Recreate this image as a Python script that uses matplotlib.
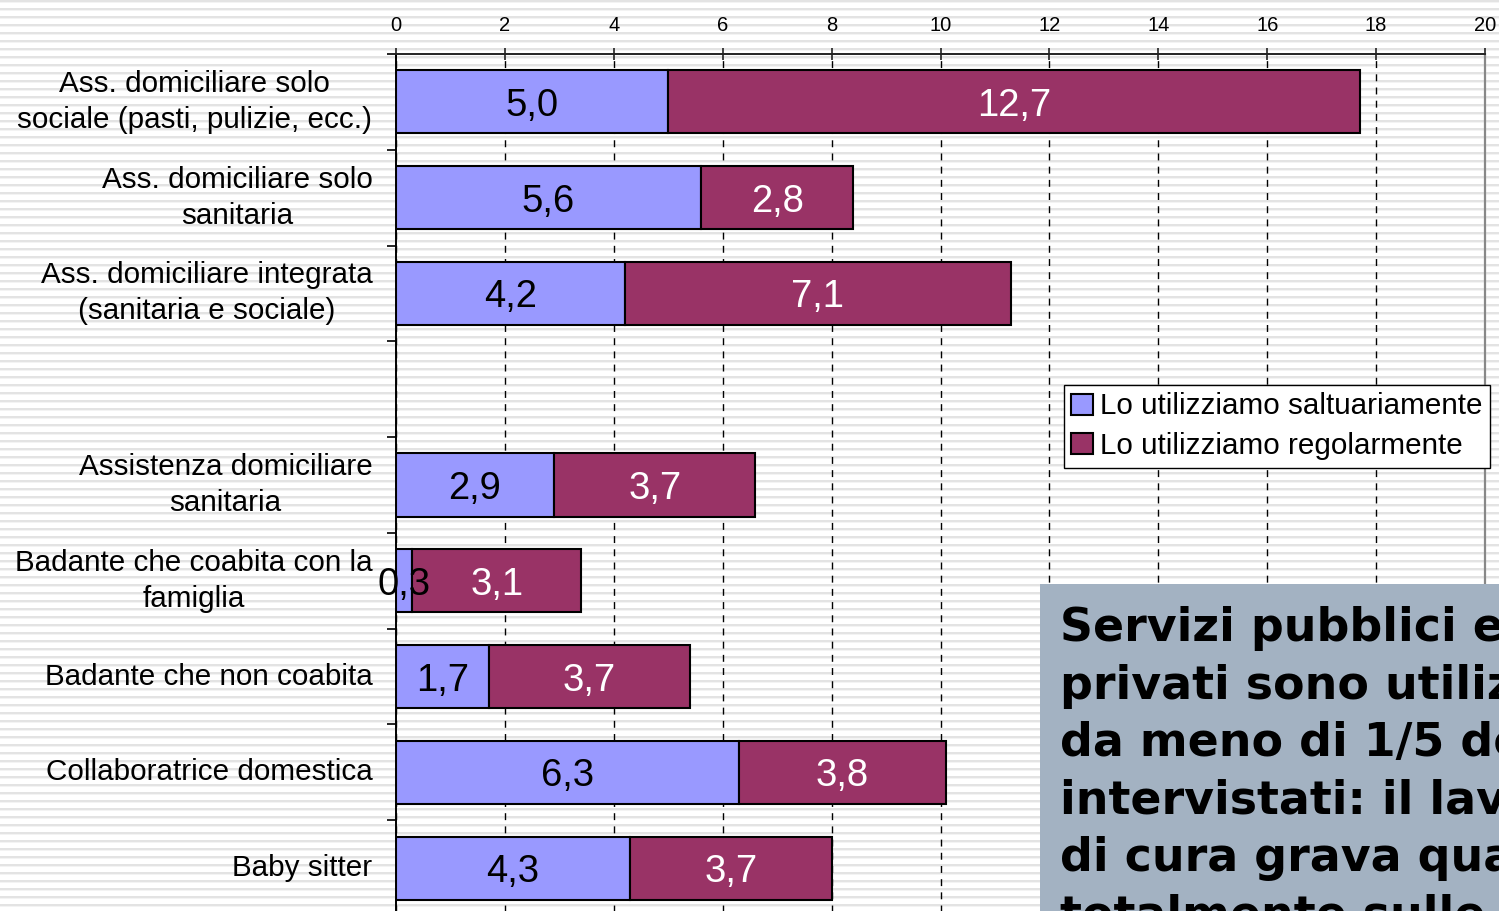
import numpy as np
import matplotlib
matplotlib.use("Agg")
import matplotlib.pyplot as plt
from matplotlib.patches import Rectangle

# ---- data ----
categories = [
    "Ass. domiciliare solo\nsociale (pasti, pulizie, ecc.)",
    "Ass. domiciliare solo\nsanitaria",
    "Ass. domiciliare integrata\n(sanitaria e sociale)",
    "",
    "Assistenza domiciliare\nsanitaria",
    "Badante che coabita con la\nfamiglia",
    "Badante che non coabita",
    "Collaboratrice domestica",
    "Baby sitter",
]
saltuariamente = [5.0, 5.6, 4.2, np.nan, 2.9, 0.3, 1.7, 6.3, 4.3]
regolarmente = [12.7, 2.8, 7.1, np.nan, 3.7, 3.1, 3.7, 3.8, 3.7]
series_names = ["Lo utilizziamo saltuariamente", "Lo utilizziamo regolarmente"]
x_ticks = list(range(0, 21, 2))
note_lines = [
    "Servizi pubblici e",
    "privati sono utilizzati",
    "da meno di 1/5 degli",
    "intervistati: il lavoro",
    "di cura grava quasi",
    "totalmente sulle famiglie",
]

W, H = 1499, 911
plt.rcParams['font.family'] = ['Liberation Sans', 'DejaVu Sans']

fig = plt.figure(figsize=(W / 100, H / 100), dpi=100)
fig.patch.set_facecolor('white')

# striped background
bg = fig.add_axes([0, 0, 1, 1], zorder=-10)
rows = np.ones((H, 1))
for y in range(H):
    m = y % 8
    if m in (0, 1):
        rows[y, 0] = 0.89
    elif m == 2:
        rows[y, 0] = 0.95
bg.imshow(rows, cmap='gray', vmin=0, vmax=1, aspect='auto', interpolation='nearest',
          extent=[0, 1, 0, 1])
bg.set_axis_off()

ax = fig.add_axes([396 / W, -5 / H, (1485 - 396) / W, (911 - 54 + 5) / H])
ax.set_facecolor('none')

n = len(categories)
pos = np.arange(n)
c1, c2 = '#9999FF', '#993366'
sal = np.array(saltuariamente, dtype=float)
reg = np.array(regolarmente, dtype=float)
b1 = ax.barh(pos, sal, height=0.66, color=c1, edgecolor='black', linewidth=1.5,
             label=series_names[0], zorder=3)
b2 = ax.barh(pos, reg, left=sal, height=0.66, color=c2, edgecolor='black', linewidth=1.5,
             label=series_names[1], zorder=3)

def fmt(v):
    return "" if np.isnan(v) else f"{v:.1f}".replace('.', ',')

for bars, vals, col in ((b1, sal, 'black'), (b2, reg, 'white')):
    txts = ax.bar_label(bars, labels=[fmt(v) for v in vals], label_type='center',
                        fontsize=27.5, color=col, zorder=5)
    for t in txts:
        t.set_va('center_baseline')

ax.set_xlim(0, 20)
ax.set_ylim(n - 0.5, -0.5)
ax.xaxis.tick_top()
ax.set_xticks(x_ticks)
ax.tick_params(axis='x', which='major', direction='inout', length=9, width=1.2,
               labelsize=14.5, pad=9.5, color='#222222')
ax.set_yticks(pos)
ax.set_yticklabels(categories)
ax.set_yticks(np.arange(-0.5, n, 1), minor=True)
ax.tick_params(axis='y', which='major', length=0, labelsize=21.3, pad=17)
ax.tick_params(axis='y', which='minor', length=6.5, width=1.2, direction='out')
for t in ax.get_yticklabels():
    t.set_multialignment('center')
    t.set_linespacing(1.36)
    t.set_va('center')

ax.grid(axis='x', color='black', linestyle=(0, (5, 4.5)), linewidth=1.0, zorder=1)
ax.set_axisbelow(True)

ax.spines['bottom'].set_visible(False)
ax.spines['top'].set_linewidth(1.4)
ax.spines['top'].set_color('#222222')
ax.spines['left'].set_linewidth(1.4)
ax.spines['left'].set_color('black')
ax.spines['right'].set_linewidth(1.6)
ax.spines['right'].set_color('#888888')

leg = ax.legend(loc='upper left', bbox_to_anchor=(1064 / W, 1 - 385 / H),
                bbox_transform=fig.transFigure, borderaxespad=0, fontsize=21.3,
                frameon=True, fancybox=False, framealpha=1, edgecolor='black',
                handlelength=0.72, handleheight=0.72, handletextpad=0.25,
                borderpad=0.25, labelspacing=0.4)
leg.get_frame().set_linewidth(1.0)
leg.set_zorder(6)

# note box
fig.add_artist(Rectangle((1040 / W, 0), (W - 1040) / W, (H - 584) / H,
                         transform=fig.transFigure, facecolor='#A3B2C2',
                         edgecolor='none', zorder=8))
fig.text(1060 / W, 1 - 606 / H, "\n".join(note_lines), fontsize=33,
         fontweight='bold', family='DejaVu Sans', va='top', ha='left',
         linespacing=1.36, color='black', zorder=9)

fig.savefig('out.png', dpi=100)
